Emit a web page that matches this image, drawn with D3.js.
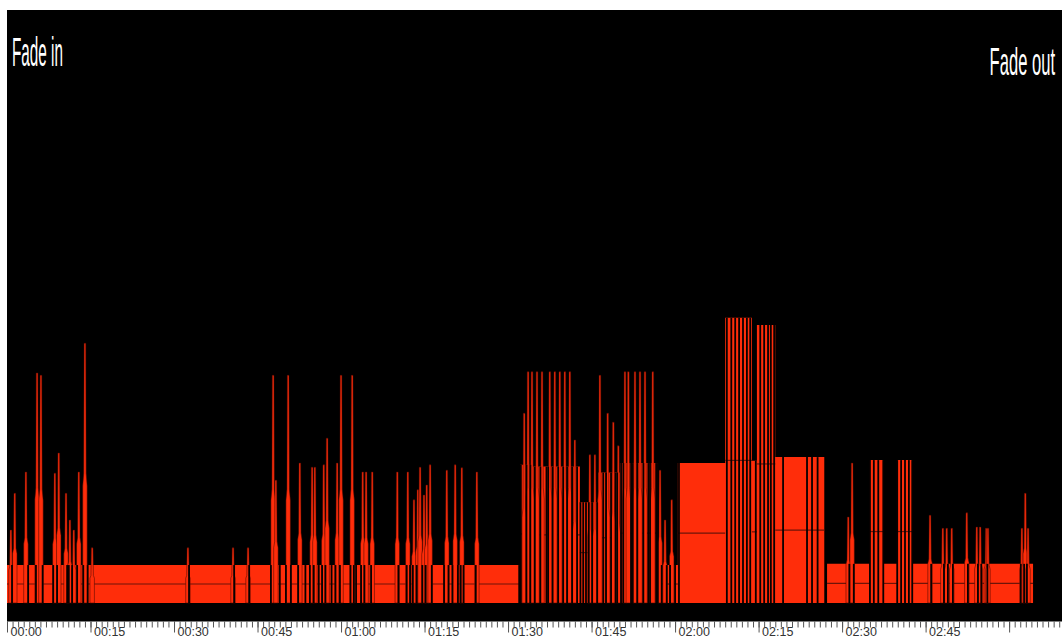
<!DOCTYPE html>
<html>
<head>
<meta charset="utf-8">
<script src="https://cdn.jsdelivr.net/npm/d3@7"></script>
<style>
    body { margin: 0; background: #fff; }
</style>
</head>
<body>
<div id="WaveformCanvas"></div>
<script>
// track length in seconds (x domain)
const trackDuration = 189.5;

// labelled ticks, every 15 s
const majorTickTimes = [0, 15, 30, 45, 60, 75, 90, 105, 120, 135, 150, 165, 180];
const majorTickLabels = ['00:00', '00:15', '00:30', '00:45', '01:00', '01:15', '01:30', '01:45', '02:00', '02:15', '02:30', '02:45'];

const fadeLabels = ['Fade in', 'Fade out'];

// sustained level: [start s, end s, amplitude]
const levelSegments = [
    [0, 92.2, 6.4], [92.2, 94.0, 23.3], [94.0, 102.9, 23.0], [102.9, 106.2, 17.0],
    [106.2, 110.1, 22.0], [110.1, 116.9, 23.6], [116.9, 120.5, 6.4], [120.5, 129.0, 23.6],
    [129.0, 133.8, 48.1], [133.8, 134.7, 24.0], [134.7, 138.0, 46.9], [138.0, 146.8, 24.6],
    [147.3, 155.0, 6.6], [155.0, 157.4, 24.1], [157.4, 159.9, 6.6], [159.9, 162.6, 24.1],
    [162.6, 184.3, 6.6]
];

// short transients: [time s, amplitude]
const peaks = [
    [0.7, 12.3], [1.4, 18.5], [3.4, 22.1], [5.4, 38.8], [6.1, 38.4], [8.6, 21.9], [9.3, 25.3],
    [10.6, 18.5], [11.3, 14.0], [12.0, 12.3], [12.9, 22.1], [14.0, 43.8], [15.3, 9.3],
    [32.5, 9.3], [40.6, 9.3], [43.3, 9.3],
    [47.8, 38.4], [48.3, 20.7], [50.5, 38.4], [52.6, 23.6], [54.8, 22.9], [55.3, 22.9],
    [56.9, 23.3], [57.5, 27.8], [59.3, 23.6], [60.0, 38.4], [62.0, 38.4], [63.9, 22.1],
    [64.5, 22.1], [65.6, 22.1], [70.1, 22.1], [72.0, 22.1], [73.1, 17.4], [73.8, 19.1],
    [74.2, 22.9], [74.9, 18.2], [75.4, 19.9], [76.0, 23.3], [79.0, 22.4], [80.5, 23.3],
    [81.7, 22.8], [84.4, 22.1],
    [92.9, 32.0], [93.6, 39.0], [94.3, 39.0], [95.2, 39.0], [96.1, 39.0], [97.5, 39.0],
    [98.4, 39.0], [99.3, 39.0], [100.2, 39.0], [101.1, 39.0], [102.0, 27.5], [104.7, 25.0],
    [105.6, 25.0], [106.5, 38.4], [107.9, 32.0], [108.9, 30.5], [109.8, 26.5], [111.0, 39.0],
    [111.6, 39.0], [112.8, 39.0], [113.7, 39.0], [114.6, 39.0], [116.0, 39.0], [117.3, 22.4],
    [118.2, 14.0], [119.4, 17.4],
    [151.1, 14.5], [151.8, 23.6], [165.8, 14.8], [168.1, 12.6], [168.8, 12.6], [169.7, 12.6],
    [172.4, 15.2], [174.2, 12.8], [174.8, 12.8], [175.9, 12.6], [176.2, 12.6], [182.3, 12.6],
    [182.9, 18.5], [183.4, 12.6]
];

// silent dropouts (time s)
const drops = [
    0.9, 3.8, 5.2, 6.4, 8.3, 9.0, 10.8, 11.1, 11.7, 12.6, 13.7, 14.5, 32.7, 40.8, 43.5,
    47.4, 49.0, 50.1, 51.0, 52.3, 53.6, 54.4, 55.1, 56.0, 56.6, 57.2, 58.3, 59.0, 59.8,
    61.7, 62.3, 62.7, 63.6, 64.2, 65.4, 70.3, 71.8, 72.4, 72.9, 73.6, 74.6, 75.2, 76.3,
    78.5, 79.3, 80.0, 81.0, 81.5, 82.0, 84.2, 92.0,
    92.3, 93.3, 94.0, 94.8, 95.8, 96.9, 97.2, 98.0, 99.0, 99.9, 100.6, 101.5, 102.4, 103.0,
    103.5, 104.0, 104.5, 105.1, 106.0, 107.1, 107.6, 108.5, 109.3, 109.6, 110.3, 110.7,
    112.1, 112.4, 113.2, 114.3, 115.2, 115.5, 116.6, 116.9, 117.6, 118.5, 119.1, 120.0,
    120.7, 129.3, 130.1, 130.8, 131.5, 132.2, 132.9, 133.5, 134.5, 135.3, 136.0, 136.7,
    137.2, 137.8, 139.4, 143.7, 144.6, 145.6,
    151.3, 152.1, 155.0, 155.7, 156.5, 157.4, 159.9, 160.6, 161.3, 162.0, 162.6, 166.0,
    168.3, 169.0, 169.9, 172.6, 174.4, 175.0, 176.1, 182.1, 182.7, 183.2
];

class WaveformView {

    constructor(container){
        this.container = container;
        this.width = 1062;
        this.height = 639;
        this.margin = {top: 10, right: 0, bottom: 17, left: 7};
        this.baseline = 603;

        this.wave_color = '#ff2d0a';
        this.mid_color = '#6e1408';
        this.edge_color = 'rgba(70, 8, 2, 0.75)';
        this.drop_color = '#080100';
    }

    init(){
        d3.select(this.container).html('');
        this.chart = d3.select(this.container)
            .append('svg')
            .attr('width', this.width)
            .attr('height', this.height);

        this.plotBottom = this.height - this.margin.bottom - 0.5;

        this.chart.append('rect')
            .attr('x', this.margin.left)
            .attr('y', this.margin.top)
            .attr('width', this.width - this.margin.left - this.margin.right)
            .attr('height', this.plotBottom - this.margin.top)
            .attr('fill', '#000');

        this.x_axis = d3.scaleLinear()
            .domain([0, trackDuration])
            .range([this.margin.left, this.width - this.margin.right]);

        this.y_axis = d3.scaleLinear()
            .domain([0, 100])
            .range([this.baseline, this.margin.top]);
    }

    levelAt(t){
        let v = 0;
        levelSegments.forEach((s)=>{
            if(t >= s[0] && t <= s[1]) v = Math.max(v, s[2]);
        });
        return v;
    }

    draw(){
        let area = d3.area()
            .x((d)=>{ return this.x_axis(d[0]); })
            .y0(this.y_axis(0))
            .y1((d)=>{ return this.y_axis(d[1]); });

        // sustained level as one area
        let levelPoints = [];
        levelSegments.forEach((s)=>{
            levelPoints.push([s[0], 0], [s[0], s[2]], [s[1], s[2]], [s[1], 0]);
        });

        this.chart.append('path')
            .attr('d', area(levelPoints))
            .attr('fill', this.wave_color);

        // half-level line
        this.chart.append('g').selectAll('line')
            .data(levelSegments)
            .enter()
            .append('line')
            .attr('x1', (d)=>{ return this.x_axis(d[0]); })
            .attr('x2', (d)=>{ return this.x_axis(d[1]); })
            .attr('y1', (d)=>{ return this.y_axis(d[2] / 2); })
            .attr('y2', (d)=>{ return this.y_axis(d[2] / 2); })
            .attr('stroke', this.mid_color)
            .attr('stroke-width', 1.2);

        // transients: wider below half height, narrow column above
        let peakShape = (d)=>{
            let t = d[0], h = d[1];
            return [[t - 0.4, 0], [t - 0.4, h * 0.45], [t - 0.22, h / 2], [t - 0.15, h],
                    [t + 0.15, h], [t + 0.22, h / 2], [t + 0.4, h * 0.45], [t + 0.4, 0]];
        };
        let line = d3.line()
            .x((d)=>{ return this.x_axis(d[0]); })
            .y((d)=>{ return this.y_axis(d[1]); });

        this.chart.append('g').selectAll('path')
            .data(peaks)
            .enter()
            .append('path')
            .attr('d', (d)=>{ return line(peakShape(d)) + 'Z'; })
            .attr('fill', this.wave_color)
            .attr('stroke', this.edge_color)
            .attr('stroke-width', 0.7);

        // dropouts cut through the level
        this.chart.append('g').selectAll('line')
            .data(drops)
            .enter()
            .append('line')
            .attr('x1', (d)=>{ return this.x_axis(d); })
            .attr('x2', (d)=>{ return this.x_axis(d); })
            .attr('y1', this.y_axis(0))
            .attr('y2', (d)=>{ return this.y_axis(this.levelAt(d)); })
            .attr('stroke', this.drop_color)
            .attr('stroke-width', 1.8);

        // time axis: minor ticks each second, labelled every 15 s
        let minor = d3.axisBottom(this.x_axis)
            .tickValues(d3.range(0, trackDuration, 1))
            .tickSize(6)
            .tickFormat('');
        let major = d3.axisBottom(this.x_axis)
            .tickValues(majorTickTimes)
            .tickSize(11)
            .tickFormat((d, i)=>{ return majorTickLabels[i] || ''; });

        [minor, major].forEach((ax)=>{
            let g = this.chart.append('g')
                .attr('transform', 'translate(0,' + this.plotBottom + ')')
                .call(ax)
                .attr('font-family', '"Liberation Sans", Arial, sans-serif')
                .attr('font-size', 12.5);
            g.select('.domain').remove();
            g.selectAll('.tick line').attr('stroke', '#555');
            g.selectAll('.tick text')
                .attr('x', 3)
                .attr('y', 6)
                .attr('text-anchor', 'start')
                .attr('fill', '#333');
        });

        // fade markers (narrow, tall lettering)
        this.chart.append('text')
            .attr('transform', 'translate(12,66) scale(0.373,1)')
            .attr('font-family', '"Liberation Sans", Arial, sans-serif')
            .attr('font-size', 41)
            .attr('fill', '#fff')
            .text(fadeLabels[0]);

        this.chart.append('text')
            .attr('transform', 'translate(1055,75) scale(0.425,1)')
            .attr('text-anchor', 'end')
            .attr('font-family', '"Liberation Sans", Arial, sans-serif')
            .attr('font-size', 39)
            .attr('fill', '#fff')
            .text(fadeLabels[1]);
    }
}

let view = new WaveformView('#WaveformCanvas');
view.init();
view.draw();
</script>
</body>
</html>
